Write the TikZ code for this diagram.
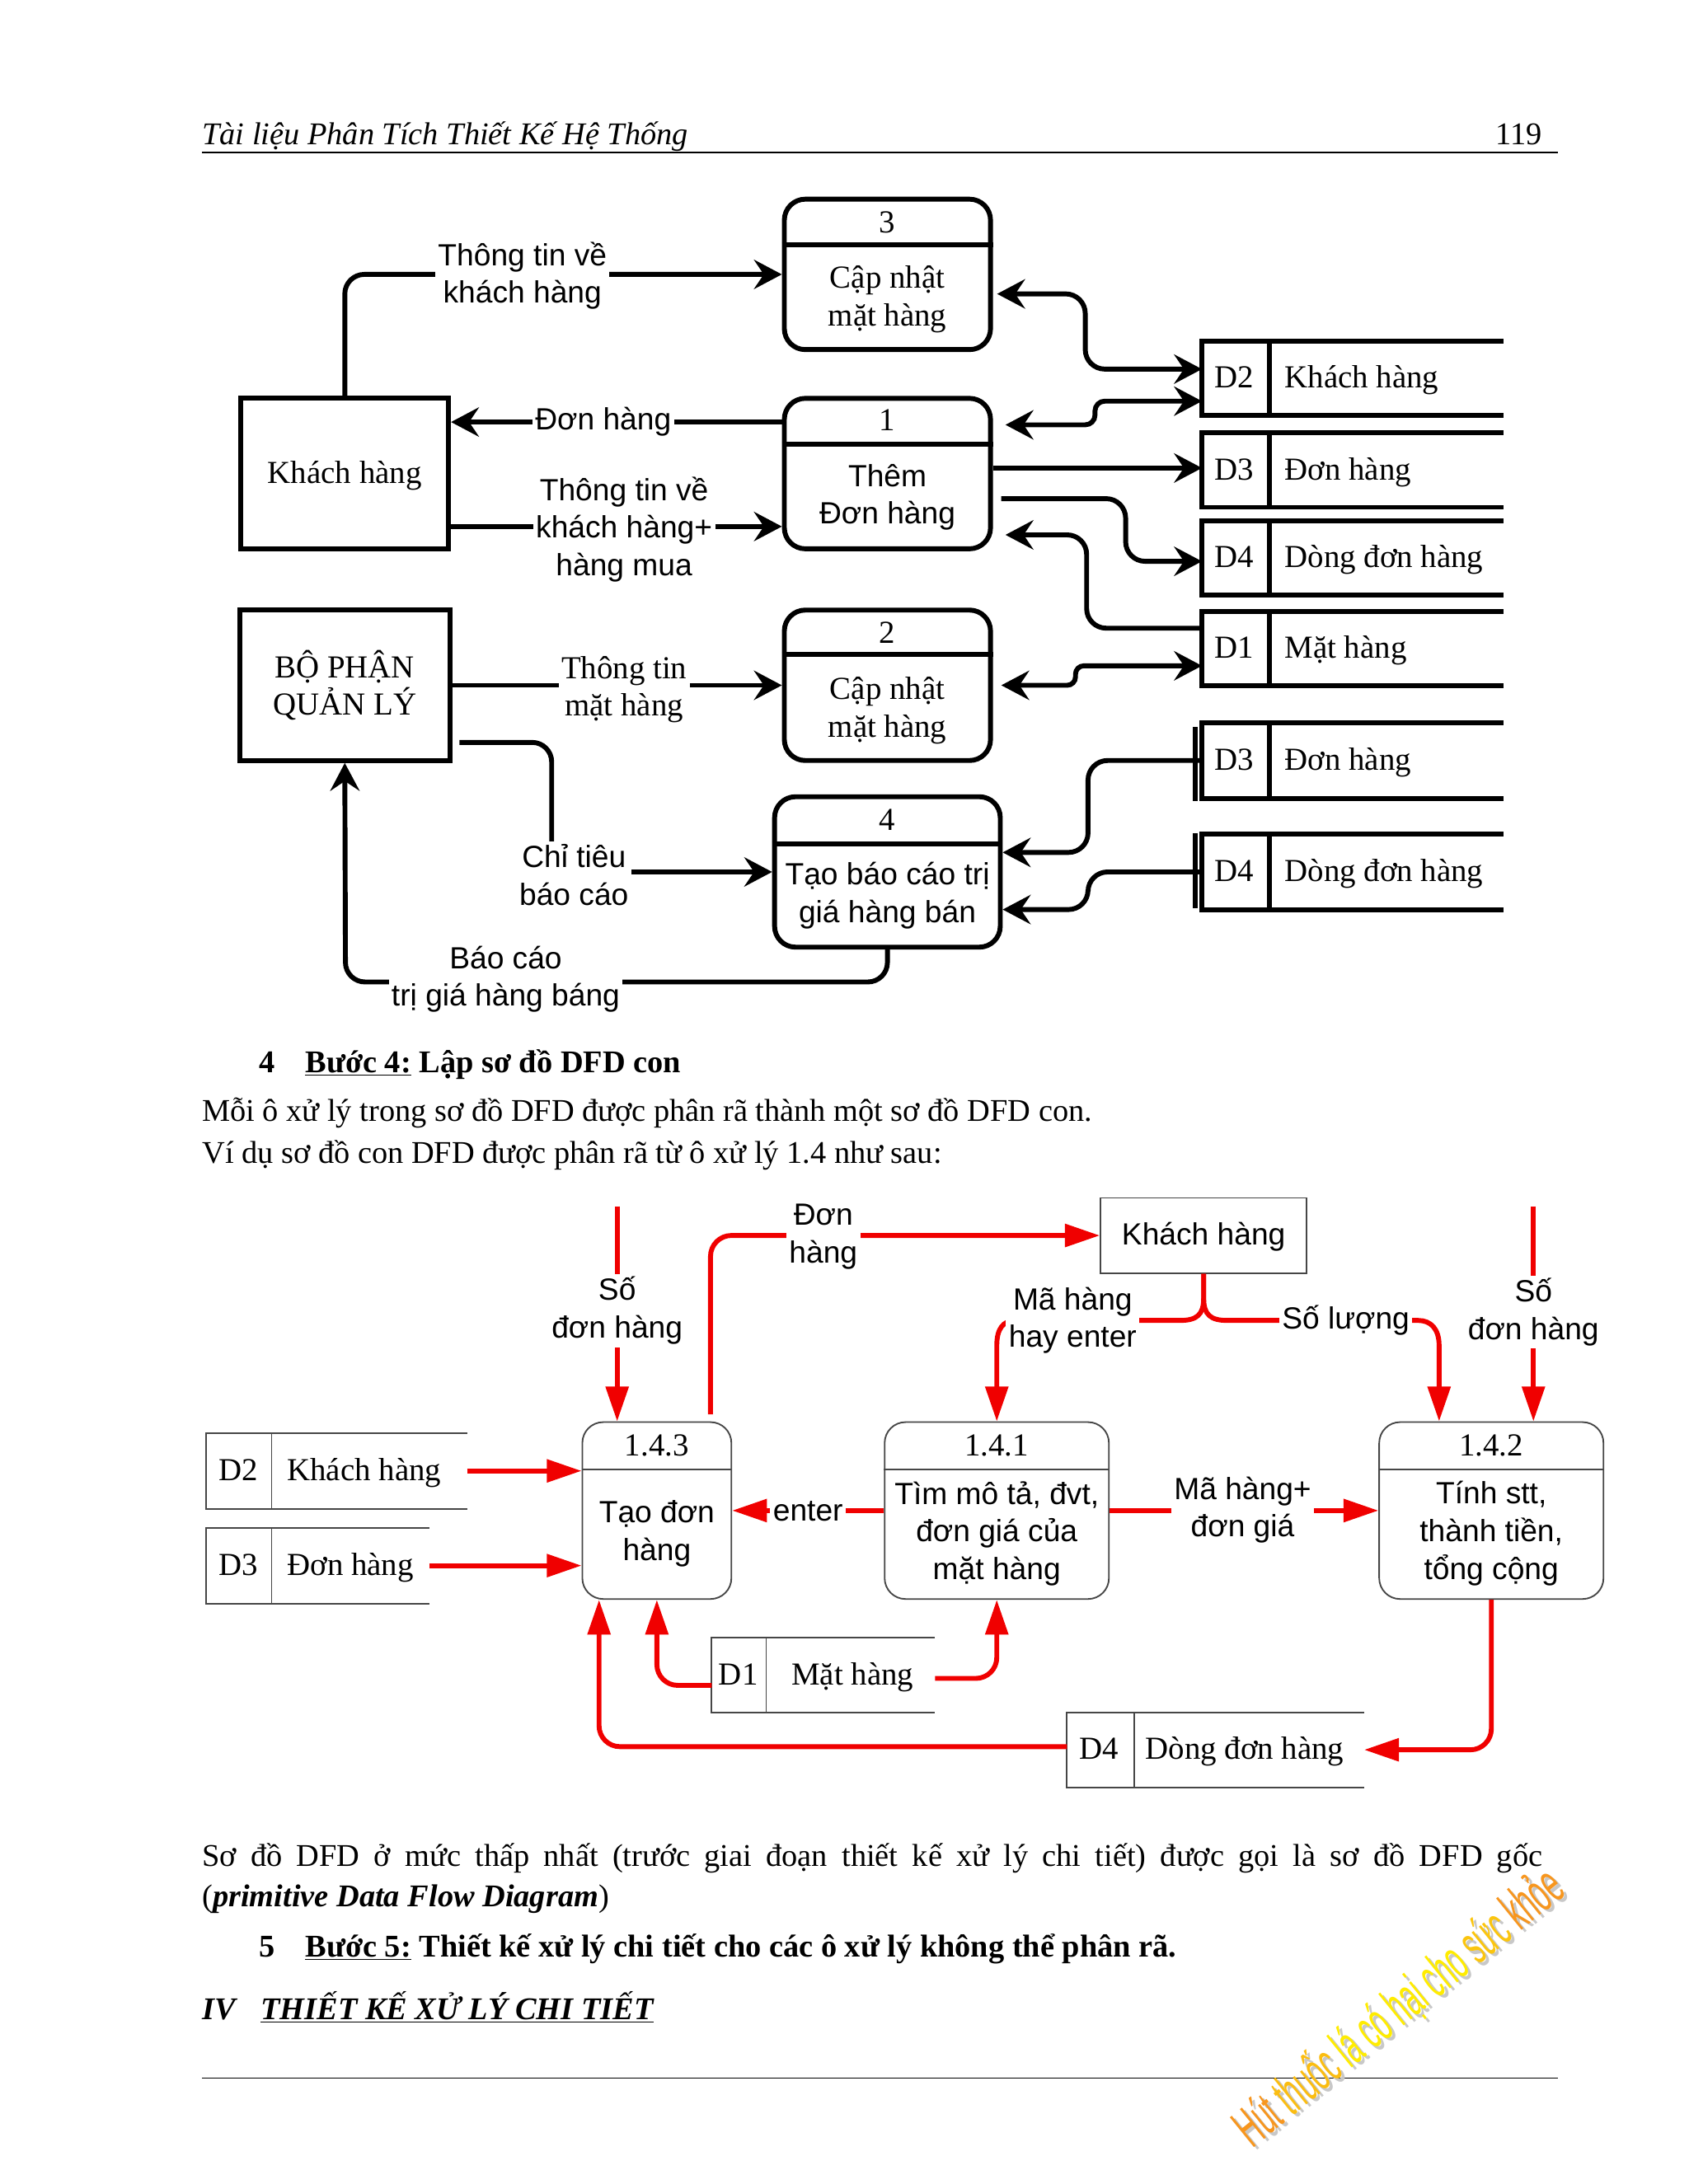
\documentclass[tikz,border=0pt]{standalone}
\usepackage{fontspec}
\usepackage{graphicx}
\setmainfont{Liberation Serif}
\newfontfamily\labsans{Liberation Sans}
\usetikzlibrary{arrows.meta}
\definecolor{wmor}{RGB}{247,150,30}
\definecolor{wmye}{RGB}{255,236,0}
\definecolor{wmsh}{RGB}{200,200,200}
\definecolor{boxln}{RGB}{70,70,70}
\definecolor{rline}{RGB}{240,0,0}
\newcommand\dsz{\fontsize{22}{27}\selectfont}
\newcommand\dsr{\fontsize{23}{27}\selectfont}
\newcommand\bsz{\fontsize{22.7}{30}\selectfont}
\begin{document}
\begin{tikzpicture}[x=1pt,y=-1pt,
  >={Stealth[length=20pt,width=21pt,inset=7pt]},
  oneline/.style={text height=17pt, text depth=3pt},
  txr/.style={font=\dsr, align=center, inner sep=0pt},
  txs/.style={font=\dsz\labsans, align=center, inner sep=0pt},
  lab/.style={fill=white, inner sep=2pt, align=center},
  blk/.style={draw=black, line width=3.5pt},
  proc/.style={blk, rounded corners=15pt, inner sep=0pt, minimum height=108pt},
  ent/.style={blk, inner sep=0pt, minimum height=108pt},
  ghost/.style={inner sep=0pt, draw=none},
  flow/.style={line width=3.5pt, rounded corners=14pt},
  thinln/.style={draw=boxln, line width=1.1pt},
  rproc/.style={thinln, rounded corners=15pt, inner sep=0pt, minimum height=127pt},
  rflow/.style={draw=rline, line width=3.5pt, rounded corners=15pt, >={Triangle[length=25pt,width=16pt]}},
  body/.style={anchor=base west, inner sep=0pt, font=\bsz},
  wmark/.style={anchor=base, inner sep=0pt, rotate=39, font=\fontsize{40}{40}\selectfont\labsans},
]
\fill[white] (0,0) rectangle (1212,1568);
\useasboundingbox (0,0) rectangle (1212,1568);

% ---------- header ----------
\node[body, font=\bsz\itshape] (hdr) at (145,104) {Tài liệu Phân Tích Thiết Kế Hệ Thống};
\node[anchor=base east, inner sep=0pt, font=\bsz] (pg) at (1107,104) {119};
\draw[line width=1.6pt] (145,109.5) -- (1118,109.5);

% ---------- top DFD ----------
\node[proc, minimum width=148pt] (p3) at (637,197) {};
\node[proc, minimum width=148pt] (p1) at (637,340) {};
\node[proc, minimum width=148pt] (p2) at (637,492) {};
\node[proc, minimum width=162pt] (p4) at (637,626) {};
\draw[blk] (p3.west |- 0,176) -- (p3.east |- 0,176);
\draw[blk] (p1.west |- 0,319) -- (p1.east |- 0,319);
\draw[blk] (p2.west |- 0,470) -- (p2.east |- 0,470);
\draw[blk] (p4.west |- 0,606) -- (p4.east |- 0,606);
\node[ent, minimum width=149pt] (kh) at (247.5,340) {};
\node[ent, minimum width=151pt] (bp) at (247.5,492) {};

\node[txr, oneline] (p3n) at (637,160) {3};
\node[txr] (p3t) at (637,215) {Cập nhật\\mặt hàng};
\node[txr, oneline] (p1n) at (637,302) {1};
\node[txs] (p1t) at (637,357) {Thêm\\Đơn hàng};
\node[txr, oneline] (p2n) at (637,455) {2};
\node[txr] (p2t) at (637,510) {Cập nhật\\mặt hàng};
\node[txr, oneline] (p4n) at (637,589) {4};
\node[txs] (p4t) at (637,643) {Tạo báo cáo trị\\giá hàng bán};
\node[txr, oneline] (kht) at (247.5,340) {Khách hàng};
\node[txr] (bpt) at (247.5,492) {BỘ PHẬN\\QUẢN LÝ};

% data stores (top)
\foreach \nm/\cy/\hh/\id/\tx in {d2a/271.5/53/D2/Khách hàng, d3a/337.5/53/D3/Đơn hàng, d4a/400.5/53/D4/Dòng đơn hàng, d1a/465.5/53/D1/Mặt hàng, d3b/546/54/D3/Đơn hàng, d4b/626/54/D4/Dòng đơn hàng}{
  \node[ghost, minimum width=216pt, minimum height=\hh pt] (\nm) at (971,\cy) {};
  \draw[blk, line join=miter] (\nm.north east) -- (\nm.north west) -- (\nm.south west) -- (\nm.south east);
  \draw[blk] (\nm.north -| 911,0) -- (\nm.south -| 911,0);
  \node[txr, oneline] (\nm i) at (886,\cy) {\id};
  \node[txr, oneline, anchor=west] (\nm t) at (922,\cy) {\tx};
}
\draw[blk] (858,522) -- (858,575);
\draw[blk] (858,598) -- (858,652);

% connectors (top)
\draw[flow,->] (kh.north) |- (p3.west |- 0,197);
\draw[flow,->] (p1.west |- 0,303) -- (kh.east |- 0,303);
\draw[flow,->] (kh.east |- 0,378) -- (p1.west |- 0,378);
\draw[flow,->] (bp.east |- 0,492) -- (p2.west |- 0,492);
\draw[flow,->, shorten <=5pt] (bp.east |- 0,533) -| (396,626) -- (p4.west |- 0,626);
\draw[flow,->] (p4.south) |- (248,705) -- (bp.south);
\draw[flow,<->, shorten <=3pt] (p3.east |- 0,211) -- (779,211) -- (779,265) -- (d2a.west |- 0,265);
\draw[flow,<->, rounded corners=7pt, shorten <=9pt] (p1.east |- 0,305) -- (786,305) -- (786,288) -- (d2a.west |- 0,288);
\draw[flow,->] (p1.east |- 0,336) -- (d3a.west |- 0,336);
\draw[flow,->, shorten <=6pt] (p1.east |- 0,358) -- (808,358) -- (808,403) -- (d4a.west |- 0,403);
\draw[flow,->, shorten >=9pt] (d1a.west |- 0,451) -- (780,451) -- (780,384) -- (p1.east |- 0,384);
\draw[flow,<->, rounded corners=6pt, shorten <=6pt] (p2.east |- 0,492) -- (772,492) -- (772,478) -- (d1a.west |- 0,478);
\draw[flow,->] (d3b.west |- 0,546) -- (781,546) -- (781,612) -- (p4.east |- 0,612);
\draw[flow,->] (d4b.west |- 0,626) -- (781,626) -- (781,653) -- (p4.east |- 0,653);

% labels (top)
\node[txs, lab] (l1) at (375,198) {Thông tin về\\khách hàng};
\node[txs, lab] (l2) at (433,303) {Đơn hàng};
\node[txs, lab] (l3) at (448,380) {Thông tin về\\khách hàng+\\hàng mua};
\node[txr, lab] (l4) at (448,495) {Thông tin\\mặt hàng};
\node[txs, lab] (l5) at (412,628) {Chỉ tiêu\\báo cáo};
\node[txs, lab] (l6) at (363,703) {Báo cáo\\trị giá hàng báng};

% ---------- middle text ----------
\node[body, font=\bsz\bfseries] (h4n) at (186,770) {4};
\node[body, font=\bsz\bfseries] (h4t) at (219,770) {\underline{Bước 4:} Lập sơ đồ DFD con};
\node[body] (b1) at (145,805) {Mỗi ô xử lý trong sơ đồ DFD được phân rã thành một sơ đồ DFD con.};
\node[body] (b2) at (145,835) {Ví dụ sơ đồ con DFD được phân rã từ ô xử lý 1.4 như sau:};

% ---------- bottom DFD ----------
\node[rproc, minimum width=107pt] (q3) at (471.5,1084.5) {};
\node[rproc, minimum width=161pt] (q1) at (715.5,1084.5) {};
\node[rproc, minimum width=161pt] (q2) at (1070.5,1084.5) {};
\node[thinln, inner sep=0pt, minimum width=148pt, minimum height=54pt] (kh2) at (864,887) {};
\draw[thinln] (q3.west |- 0,1055) -- (q3.east |- 0,1055);
\draw[thinln] (q1.west |- 0,1055) -- (q1.east |- 0,1055);
\draw[thinln] (q2.west |- 0,1055) -- (q2.east |- 0,1055);

\node[txr, oneline] (q3n) at (471.5,1038) {1.4.3};
\node[txs] (q3t) at (471.5,1101) {Tạo đơn\\hàng};
\node[txr, oneline] (q1n) at (715.5,1038) {1.4.1};
\node[txs] (q1t) at (715.5,1101) {Tìm mô tả, đvt,\\đơn giá của\\mặt hàng};
\node[txr, oneline] (q2n) at (1070.5,1038) {1.4.2};
\node[txs] (q2t) at (1070.5,1101) {Tính stt,\\thành tiền,\\tổng cộng};
\node[txs, oneline] (kh2t) at (864,887) {Khách hàng};

% data stores (bottom)
\foreach \nm/\cx/\cy/\ww/\hh/\dv/\ix/\tx/\id/\nmt in {e2/241.5/1056/187/54/195/171/206/D2/Khách hàng, e3/228/1124/160/54/195/171/206/D3/Đơn hàng, e1/591/1202.75/160/53.5/550/530/568/D1/Mặt hàng, e4/872.5/1256.25/213/53.5/814/789/822/D4/Dòng đơn hàng}{
  \node[ghost, minimum width=\ww pt, minimum height=\hh pt] (\nm) at (\cx,\cy) {};
  \draw[thinln, line join=miter] (\nm.north east) -- (\nm.north west) -- (\nm.south west) -- (\nm.south east);
  \draw[thinln] (\nm.north -| \dv,0) -- (\nm.south -| \dv,0);
  \node[txr, oneline] (\nm i) at (\ix,\cy) {\id};
  \node[txr, oneline, anchor=west] (\nm t) at (\tx,\cy) {\nmt};
}

% connectors (bottom)
\coordinate (f1) at (443,866);
\coordinate (f2) at (1100.7,866);
\draw[rflow,->] (f1) -- (f1 |- q3.north);
\draw[rflow,->] (f2) -- (f2 |- q2.north);
\draw[rflow,->, shorten <=5pt] (q3.north -| 510,0) |- (kh2.west);
\draw[rflow,->, sharp corners] (kh2.south) -- (864,932) .. controls (864,944) and (859,948) .. (847,948) -- (729,948) .. controls (720,948) and (715.5,954) .. (715.5,966) -- (q1.north);
\draw[rflow,->, sharp corners] (kh2.south) -- (864,932) .. controls (864,944) and (869,948) .. (881,948) -- (1018,948) .. controls (1027,948) and (1033,954) .. (1033,966) -- (q2.north -| 1033,0);
\draw[rflow,->] (q1.west) -- (q3.east);
\draw[rflow,->] (q1.east) -- (q2.west);
\draw[rflow,->] (e2.east) -- (q3.west |- e2.east);
\draw[rflow,->] (e3.east) -- (q3.west |- e3.east);
\draw[rflow,->] (e1.west |- 0,1210) -| (q3.south);
\draw[rflow,->] (e1.east |- 0,1205) -| (q1.south);
\draw[rflow,->] (e4.west |- 0,1254) -| (q3.south -| 430,0);
\draw[rflow,->] (q2.south) |- (e4.east);

% labels (bottom)
\node[txs, lab] (m1) at (443,941) {Số\\đơn hàng};
\node[txs, lab] (m2) at (591,888) {Đơn\\hàng};
\node[txs, lab] (m3) at (770,948) {Mã hàng\\hay enter};
\node[txs, lab] (m4) at (966,948) {Số lượng};
\node[txs, lab] (m5) at (1100.7,942) {Số\\đơn hàng};
\node[txs, lab] (m6) at (580,1085) {enter};
\node[txs, lab] (m7) at (892,1084) {Mã hàng+\\đơn giá};

% ---------- bottom text ----------
\node[body] (b3) at (145,1340) {\makebox[962pt][s]{Sơ đồ DFD ở mức thấp nhất (trước giai đoạn thiết kế xử lý chi tiết) được gọi là sơ đồ DFD gốc}};
\node[body] (b4) at (145,1369) {(\textbf{\textit{primitive Data Flow Diagram}})};
\node[body, font=\bsz\bfseries] (h5n) at (186,1405) {5};
\node[body, font=\bsz\bfseries] (h5t) at (219,1405) {\underline{Bước 5:} Thiết kế xử lý chi tiết cho các ô xử lý không thể phân rã.};
\node[body, font=\bsz\bfseries\itshape] (h6n) at (145,1450) {IV};
\node[body, font=\bsz\bfseries\itshape] (h6t) at (187,1450) {\underline{THIẾT KẾ XỬ LÝ CHI TIẾT}};
\draw[line width=1pt] (145,1492) -- (1118,1492);

% ---------- watermark ----------
\node[wmark, text=wmsh] (wms) at (1014.5,1453) {\scalebox{0.5}[1]{Hút thuốc lá có hại cho sức khỏe}};
\node[wmark, text=wmor] (wm) at (1012,1451) {\scalebox{0.5}[1]{Hút \textcolor{wmye!45!wmor}{thuốc} \textcolor{wmye}{lá có hại cho} \textcolor{wmye!55!wmor}{sức} khỏe}};
\end{tikzpicture}
\end{document}
